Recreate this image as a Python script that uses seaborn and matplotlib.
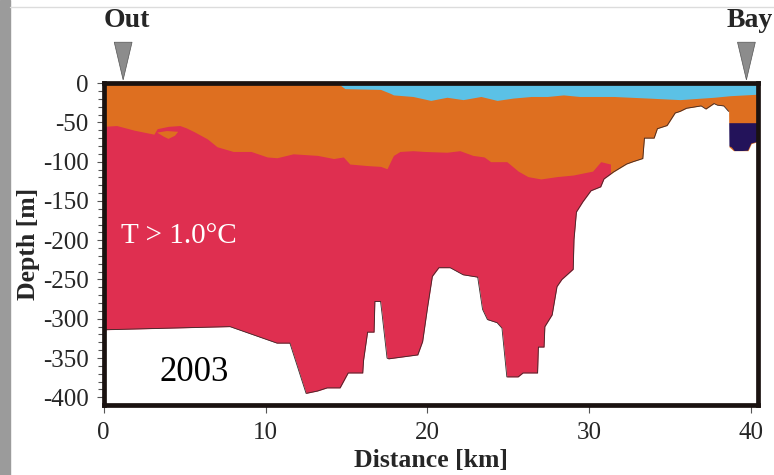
import numpy as np
import pandas as pd
import seaborn as sns
import matplotlib.pyplot as plt
import matplotlib.transforms as mtransforms
from matplotlib.patches import Rectangle
from matplotlib.lines import Line2D

# section boundaries: distance [km], depth [m]
bottom_km = [0, 7.8, 10.7, 11.5, 12.5, 13.2, 13.8, 14.6, 15.1, 16.0, 16.05, 16.3, 16.7, 16.75,
             17.1, 17.2, 17.5, 17.6, 19.4, 19.7, 20.0, 20.3, 20.7, 21.4, 22.2, 23.1, 23.4,
             23.7, 24.3, 24.6, 24.9, 25.6, 25.9, 26.8, 26.85, 27.2, 27.25, 27.7, 28.0, 28.3,
             29.0, 29.05, 29.2, 29.6, 30.1, 30.7, 30.9, 31.5, 32.3, 32.7, 33.3, 33.4, 34.0,
             34.2, 34.8, 35.3, 35.6, 36.0, 36.9, 37.2, 37.7, 37.9, 38.3, 38.6, 38.62, 38.9,
             39.8, 40.0, 40.5]
bottom_m = [-314, -310, -331, -331, -395, -392, -388, -388, -369, -369, -353, -317, -317, -278,
            -278, -295, -350, -351, -346, -329, -286, -246, -235, -235, -244, -247, -288,
            -301, -305, -312, -374, -374, -369, -369, -336, -336, -310, -295, -259, -250,
            -237, -199, -164, -151, -137, -132, -122, -113, -103, -100, -96, -70, -70,
            -58, -54, -38, -36, -32, -29, -33, -26, -28, -29, -36, -81, -86,
            -86, -77, -74]

warm_km = [0, 0.8, 1.9, 3.1, 3.3, 4.0, 4.7, 5.1, 5.6, 6.4, 7.0, 8.0, 9.1, 10.1, 10.7, 11.7,
           13.2, 14.2, 14.8, 15.2, 16.3, 17.1, 17.5, 17.8, 17.9, 18.3, 19.1, 19.8, 21.2,
           22.0, 22.8, 23.5, 23.9, 24.9, 25.6, 26.2, 27.0, 28.0, 29.0, 30.2, 30.7, 31.3]
warm_m = [-55, -54, -60, -65, -58, -55, -54, -57, -62, -71, -81, -87, -87, -94, -95, -90,
          -92, -96, -94, -103, -105, -106, -109, -96, -92, -87, -86, -87, -88,
          -86, -92, -94, -100, -100, -112, -119, -122, -119, -117, -112, -100, -103]

pocket_km = [3.3, 3.9, 4.6, 4.4, 4.0, 3.7]
pocket_m = [-63, -61, -62, -67, -71, -68]

surface_km = [14.45, 14.9, 17.1, 17.7, 17.9, 19.1, 20.2, 21.2, 22.2, 23.3, 24.3, 25.3, 26.4,
              27.4, 28.4, 29.4, 31.5, 33.6, 35.6, 37.7, 38.7, 40.5]
surface_m = [0, -7, -8, -13, -15, -17, -22, -18, -21, -17, -22, -19, -17,
             -17, -15, -17, -17, -19, -21, -18, -16, -14]

cold_km = [38.6, 40.5, 40.5, 40.0, 39.8, 39.0, 38.8, 38.6]
cold_m = [-51, -51, -74, -77, -86, -87, -82, -80]

station_km = [1.2, 39.7]
station_names = ['Out', 'Bay']

xticks = [0, 10, 20, 30, 40]
yticks = [0, -50, -100, -150, -200, -250, -300, -350, -400]

c_orange = '#DE6F20'
c_red = '#DF2F50'
c_blue = '#5BC1E6'
c_navy = '#23135A'

sns.set_theme(style='white')
plt.rcParams['font.family'] = ['Liberation Serif', 'DejaVu Serif']
plt.rcParams['axes.unicode_minus'] = False

fig = plt.figure(figsize=(7.74, 4.75), dpi=100)
ax = fig.add_axes([0.134, 0.147, 0.845, 0.678])

xmax = 40.4
ax.fill_between([0, 40.6], 0, -420, color=c_orange, lw=0)
ax.fill_between(warm_km, warm_m, -420, color=c_red, lw=0)
ax.fill(pocket_km, pocket_m, color=c_orange, lw=0)
ax.fill_between(surface_km, 0, surface_m, color=c_blue, lw=0)
ax.fill(cold_km, cold_m, color=c_navy, lw=0)
ax.fill_between(bottom_km, bottom_m, -420, color='white', lw=0)
ax.plot(bottom_km[:-5], bottom_m[:-5], color='#3a2a2a', lw=0.6)

ax.text(1.05, -194, 'T > 1.0°C', color='white', fontsize=21, va='center', ha='left')
ax.text(5.56, -368, '2003', color='black', fontsize=25, va='center', ha='center')

ax.set_xlim(0, xmax)
ax.set_ylim(-410, 0)

# station markers above the frame
trans = mtransforms.blended_transform_factory(ax.transData, ax.transAxes)
for km, name in zip(station_km, station_names):
    ax.fill([km - 0.55, km + 0.55, km], [1.127, 1.127, 1.01], color='#8c8c8c',
            ec='#555555', lw=0.5, transform=trans, clip_on=False)
    ax.text(km + 0.2, 1.196, name, transform=trans, ha='center', va='center',
            fontsize=20, fontweight='bold')

ax.set_xticks(xticks)
ax.set_xticklabels([str(t) for t in xticks])
ax.set_yticks(yticks)
ax.set_yticklabels([str(t) for t in yticks])
ax.set_yticks(np.arange(-400, 1, 10), minor=True)
ax.tick_params(axis='both', which='both', direction='out', color='#555555', width=0.8,
               labelsize=18, bottom=True, left=True)
ax.tick_params(axis='x', which='major', length=6, pad=6)
ax.tick_params(axis='y', which='major', length=5, pad=6)
ax.tick_params(axis='y', which='minor', length=4)

for s in ax.spines.values():
    s.set_color('#1a1210')
    s.set_linewidth(3.4)
    s.set_zorder(5)

ax.set_xlabel('Distance [km]', fontsize=18.5, fontweight='bold', labelpad=4)
ax.set_ylabel('Depth [m]', fontsize=18.5, fontweight='bold', labelpad=2)

fig.patches.append(Rectangle((0, 0), 10 / 774, 1, transform=fig.transFigure,
                             color='#9b9b9b', zorder=0))
fig.lines.append(Line2D([10 / 774, 1], [1 - 7 / 475, 1 - 7 / 475], transform=fig.transFigure,
                        color='#dcdcdc', lw=1))

fig.savefig('out.png', dpi=100)
